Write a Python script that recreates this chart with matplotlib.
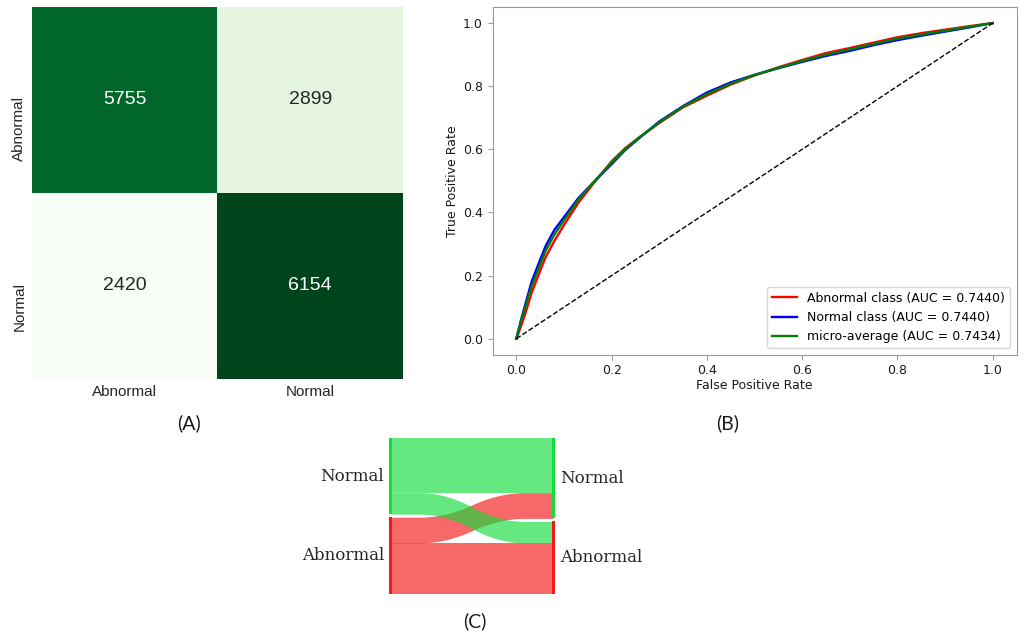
import numpy as np
import matplotlib
matplotlib.use('Agg')
import matplotlib.pyplot as plt
from matplotlib.transforms import ScaledTranslation

# ---------------- data ----------------
class_labels = ['Abnormal', 'Normal']
confusion = [[5755, 2899],
             [2420, 6154]]   # rows: true label, cols: predicted label

roc_fpr = [0, 0.01, 0.02, 0.032, 0.05, 0.062, 0.08, 0.10, 0.13, 0.161, 0.20, 0.228,
           0.26, 0.30, 0.35, 0.40, 0.45, 0.50, 0.55, 0.60, 0.65, 0.70, 0.75, 0.80,
           0.85, 0.90, 0.95, 1.0]
tpr_abnormal = [0, 0.04, 0.085, 0.145, 0.215, 0.26, 0.31, 0.36, 0.43, 0.49, 0.562, 0.603,
                0.64, 0.683, 0.733, 0.77, 0.805, 0.834, 0.86, 0.883, 0.905, 0.921, 0.938,
                0.955, 0.968, 0.979, 0.99, 1.0]
tpr_normal = [0, 0.06, 0.115, 0.18, 0.25, 0.295, 0.345, 0.385, 0.445, 0.494, 0.553, 0.597,
              0.638, 0.688, 0.737, 0.78, 0.812, 0.836, 0.857, 0.877, 0.896, 0.912, 0.93,
              0.946, 0.96, 0.973, 0.986, 1.0]
tpr_micro = [0, 0.055, 0.105, 0.165, 0.235, 0.28, 0.33, 0.375, 0.44, 0.494, 0.558, 0.60,
             0.64, 0.685, 0.735, 0.775, 0.808, 0.835, 0.858, 0.880, 0.900, 0.917, 0.934,
             0.951, 0.964, 0.976, 0.988, 1.0]
auc_abnormal = 0.7440
auc_normal = 0.7440
auc_micro = 0.7434

sankey_colors = {'Normal': '#14dc3c', 'Abnormal': '#f31717'}
panel_titles = ['(A)', '(B)', '(C)']

# ---------------- figure ----------------
fig = plt.figure(figsize=(10.24, 6.37), dpi=100)
W, H = 1024.0, 637.0

def box(l, t, r, b):
    return [l / W, 1 - b / H, (r - l) / W, (b - t) / H]

# ---------- Panel A: confusion matrix ----------
axA = fig.add_axes(box(32, 7, 403, 379))
cm = np.array(confusion)
vmin, vmax = cm.min(), cm.max()
axA.imshow(cm, cmap='Greens', vmin=vmin, vmax=vmax, aspect='auto',
           interpolation='nearest')
for i in range(cm.shape[0]):
    for j in range(cm.shape[1]):
        frac = (cm[i, j] - vmin) / (vmax - vmin)
        axA.text(j, i, str(cm[i, j]), ha='center', va='center',
                 fontsize=14, family='Liberation Sans',
                 color='white' if frac > 0.5 else '#262626')
axA.set_xticks(range(len(class_labels)))
axA.set_xticklabels(class_labels, fontsize=11, family='Liberation Sans', color='#262626')
axA.set_yticks(range(len(class_labels)))
axA.set_yticklabels(class_labels, fontsize=11, family='Liberation Sans', color='#262626',
                    rotation=90, va='top')
axA.tick_params(length=0, pad=4)
for lbl in axA.get_yticklabels():
    lbl.set_transform(lbl.get_transform() + ScaledTranslation(0, 0.04, fig.dpi_scale_trans))
for s in axA.spines.values():
    s.set_visible(False)

# ---------- Panel B: ROC ----------
fs = 9
axB = fig.add_axes(box(492.5, 7.3, 1016.5, 354.5))
axB.plot(roc_fpr, tpr_abnormal, color='red', lw=1.7,
         label=f'Abnormal class (AUC = {auc_abnormal:.4f})')
axB.plot(roc_fpr, tpr_normal, color='blue', lw=1.7,
         label=f'Normal class (AUC = {auc_normal:.4f})')
axB.plot(roc_fpr, tpr_micro, color='green', lw=1.7,
         label=f'micro-average (AUC = {auc_micro:.4f})')
axB.plot([0, 1], [0, 1], 'k--', lw=1)
axB.set_xlim(-0.05, 1.05)
axB.set_ylim(-0.05, 1.05)
axB.set_xticks([0, 0.2, 0.4, 0.6, 0.8, 1.0])
axB.set_yticks([0, 0.2, 0.4, 0.6, 0.8, 1.0])
axB.tick_params(labelsize=fs, color='#999999', labelcolor='#1a1a1a', length=3.5)
for s in axB.spines.values():
    s.set_color('#999999')
axB.set_xlabel('False Positive Rate', fontsize=fs, color='#1a1a1a', labelpad=1)
axB.set_ylabel('True Positive Rate', fontsize=fs, color='#1a1a1a', labelpad=3)
axB.legend(loc='lower right', fontsize=fs, edgecolor='#cccccc')

# ---------- Panel C: Sankey ----------
axC = fig.add_axes(box(389, 438, 555, 594))
n = len(class_labels)
left_tot = {class_labels[i]: sum(cm[i, :]) for i in range(n)}
right_tot = {class_labels[j]: sum(cm[:, j]) for j in range(n)}
total = cm.sum()
gap = 0.02 * total
left_bottom, right_bottom = {}, {}
acc = 0
for lab in class_labels:
    left_bottom[lab] = acc
    acc += left_tot[lab] + gap
acc = 0
for lab in class_labels:
    right_bottom[lab] = acc
    acc += right_tot[lab] + gap
top = max(left_bottom[class_labels[-1]] + left_tot[class_labels[-1]],
          right_bottom[class_labels[-1]] + right_tot[class_labels[-1]])

# flows (drawn first, slightly under the node bars to avoid seams)
lcur = dict(left_bottom)
rcur = dict(right_bottom)
kern = 0.05 * np.ones(20)
for i, ll in enumerate(class_labels):
    for j, rl in enumerate(class_labels):
        v = cm[i, j]
        ys_d = np.array(50 * [lcur[ll]] + 50 * [rcur[rl]], dtype=float)
        ys_d = np.convolve(np.convolve(ys_d, kern, mode='valid'), kern, mode='valid')
        ys_u = np.array(50 * [lcur[ll] + v] + 50 * [rcur[rl] + v], dtype=float)
        ys_u = np.convolve(np.convolve(ys_u, kern, mode='valid'), kern, mode='valid')
        lcur[ll] += v
        rcur[rl] += v
        axC.fill_between(np.linspace(-0.006, 1.006, len(ys_d)), ys_d, ys_u, alpha=0.65,
                         color=sankey_colors[ll], lw=0)

for lab in class_labels:
    axC.fill_between([-0.02, 0], 2 * [left_bottom[lab]], 2 * [left_bottom[lab] + left_tot[lab]],
                     color=sankey_colors[lab], alpha=0.99, lw=0)
    axC.fill_between([1, 1.02], 2 * [right_bottom[lab]], 2 * [right_bottom[lab] + right_tot[lab]],
                     color=sankey_colors[lab], alpha=0.99, lw=0)
    axC.text(-0.05, left_bottom[lab] + left_tot[lab] / 2, lab, ha='right', va='center',
             fontsize=12, family='DejaVu Serif', color='#262626')
    axC.text(1.05, right_bottom[lab] + right_tot[lab] / 2, lab, ha='left', va='center',
             fontsize=12, family='DejaVu Serif', color='#262626')

axC.set_xlim(-0.02, 1.02)
axC.set_ylim(0, top)
axC.axis('off')

# ---------- panel titles ----------
for title, (x, y) in zip(panel_titles, [(189, 423), (728, 423), (475, 621)]):
    fig.text(x / W, 1 - y / H, title, ha='center', va='center', fontsize=14,
             family='Lato', color='#1a1a1a')

fig.savefig('out.png', dpi=100)
